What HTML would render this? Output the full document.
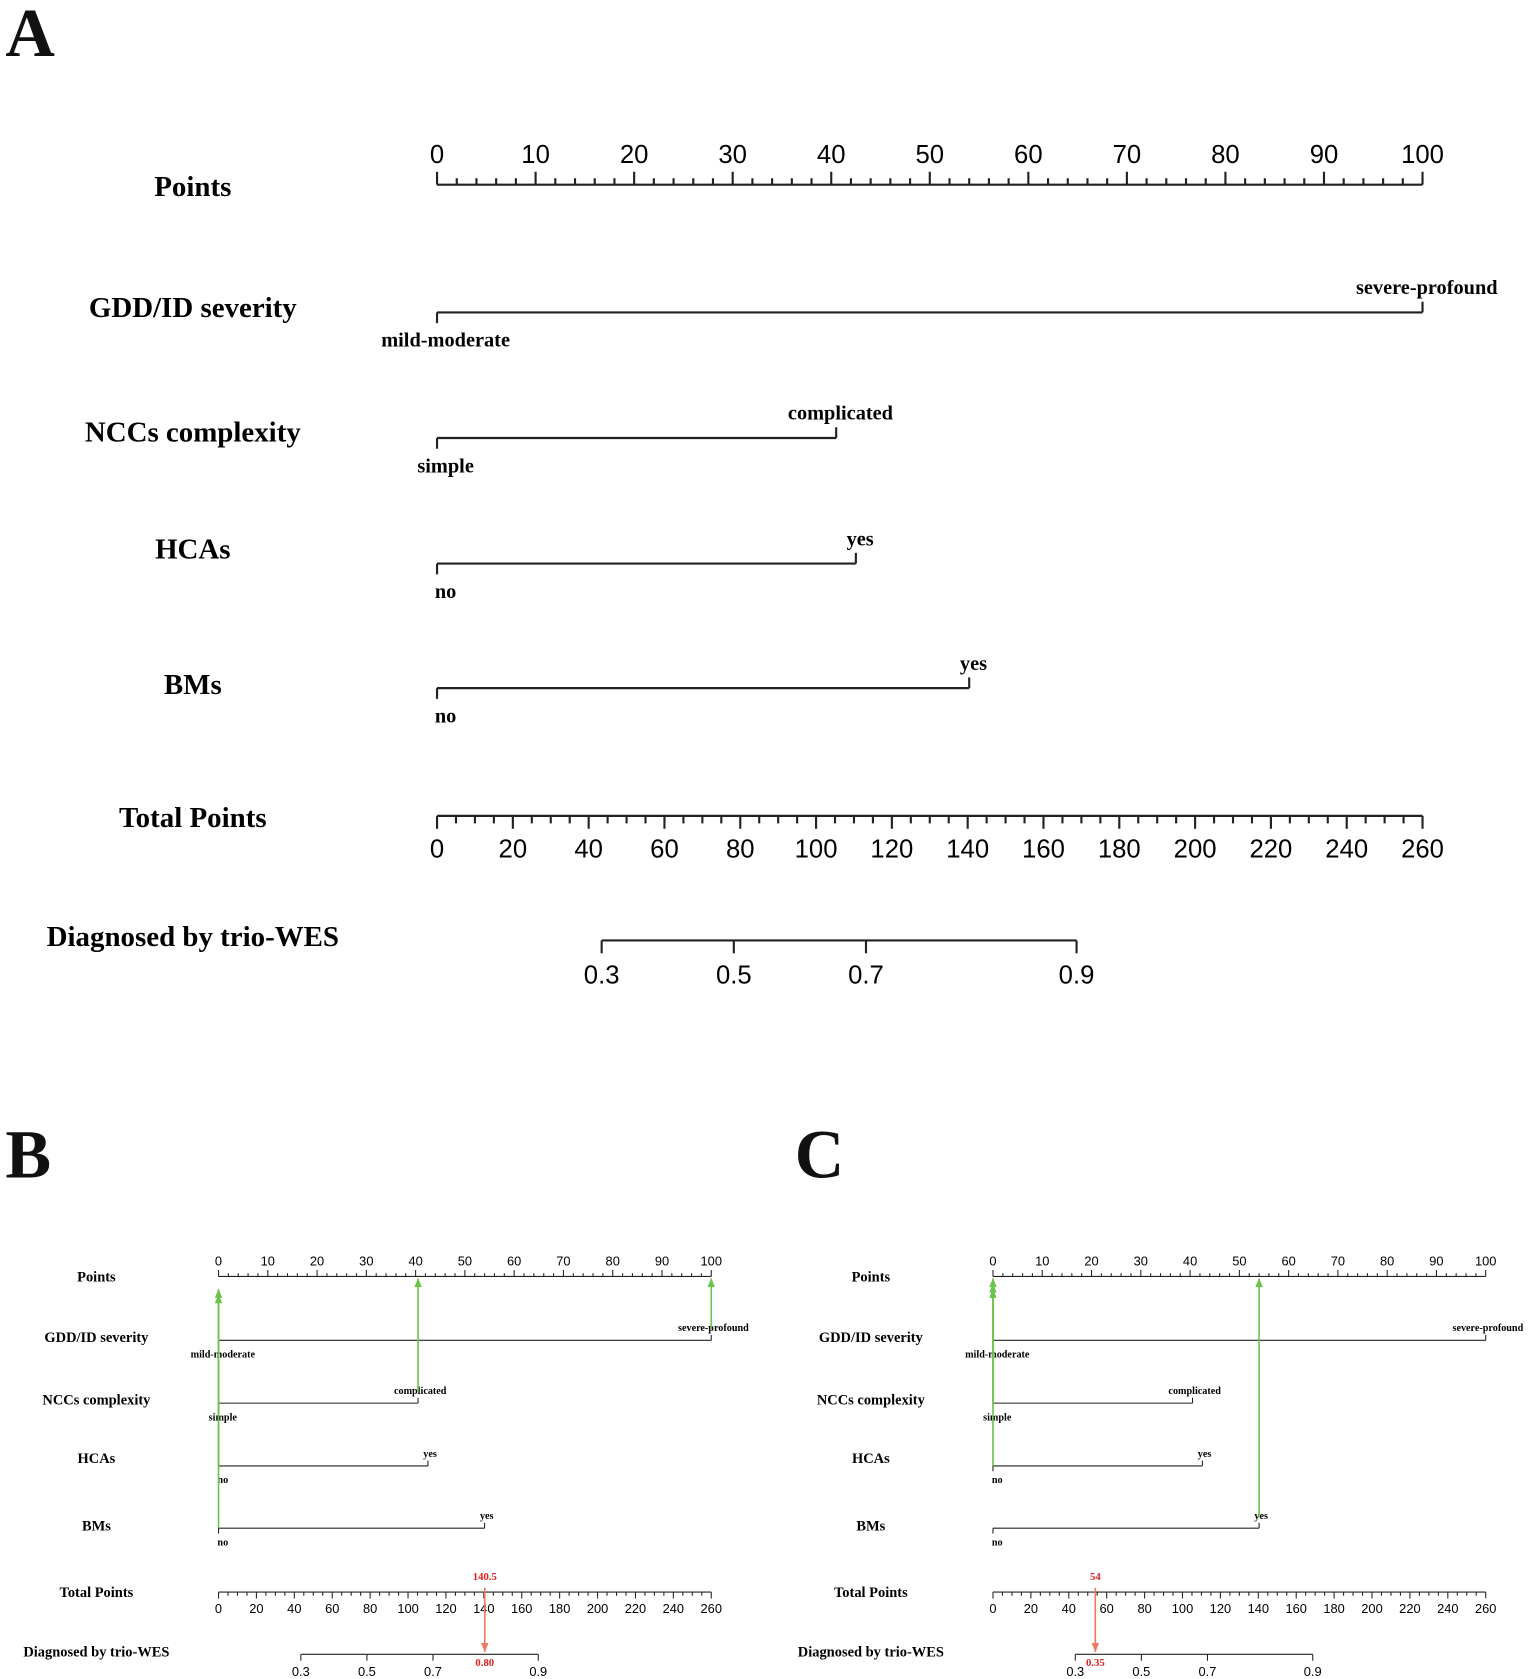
<!DOCTYPE html>
<html><head><meta charset="utf-8"><style>
html,body{margin:0;padding:0;background:#fff}
svg{display:block}
.lab{font-family:"Liberation Serif",serif;font-weight:bold}
.tick{font-family:"Liberation Sans",sans-serif}
</style></head><body>
<svg id="chart" width="1535" height="1679" viewBox="0 0 1433 1564" preserveAspectRatio="none" xmlns="http://www.w3.org/2000/svg">
<defs>
<marker id="ag" markerWidth="14" markerHeight="18" refX="7" refY="1" orient="0" markerUnits="userSpaceOnUse"><path d="M0,17 L7,0 L14,17 z" fill="#6cc24a"/></marker>
<marker id="ar" markerWidth="14" markerHeight="18" refX="7" refY="17" orient="0" markerUnits="userSpaceOnUse"><path d="M0,0 L7,17 L14,0 z" fill="#ee7a62"/></marker>
</defs>
</svg>
<script>
// ---- data ----
const varNames = ["GDD/ID severity","NCCs complexity","HCAs","BMs"];
const lowLevels = ["mild-moderate","simple","no","no"];
const highLevels = ["severe-profound","complicated","yes","yes"];
const highPoints = [100, 40.5, 42.5, 54];
const pointTicks = [0,10,20,30,40,50,60,70,80,90,100];
const totalTicks = [0,20,40,60,80,100,120,140,160,180,200,220,240,260];
const probTicks = [0.3,0.5,0.7,0.9];
const probTickLabels = ["0.3","0.5","0.7","0.9"];
const exampleB = [1,1,0,0]; // selected level index per variable
const exampleC = [0,0,0,1];
const exampleBTotal = 140.5, exampleBProb = "0.80";
const exampleCTotal = 54, exampleCProb = "0.35";

const NS = "http://www.w3.org/2000/svg";
const svg = document.getElementById('chart');
const X0 = 408, X1 = 1328, LABX = 180;
const rowY = [291, 408, 525, 641];
const rowLabY = [287, 403, 512, 638];
const PY = 172, TY = 760, DY = 876;
const xP = p => X0 + (X1 - X0) * p / 100;
const xT = t => X0 + (X1 - X0) * t / 260;
const logit = p => Math.log(p / (1 - p));
const xProb = p => xT(78.3 + logit(p) / 0.0243);

function el(parent, tag, attrs, text) {
  const e = document.createElementNS(NS, tag);
  for (const k in attrs) e.setAttribute(k, attrs[k]);
  if (text !== undefined) e.textContent = text;
  parent.appendChild(e);
  return e;
}
function line(g, x1, y1, x2, y2, col, w) {
  return el(g, 'line', {x1, y1, x2, y2, stroke: col || '#222', 'stroke-width': w || 2});
}

function panel(tx, ty, sc, name, sel, tot, prob) {
  const g = el(svg, 'g', {transform: `translate(${tx},${ty}) scale(${sc})`});
  
  
  let t = el(g, 'text', {x: LABX, y: PY + 2, class: 'lab', 'font-size': 27, 'text-anchor': 'middle', 'dominant-baseline': 'central'}, 'Points');
  
  
  const pa = el(g, 'g', {});
  
  
  line(pa, xP(0), PY, xP(100), PY);
  for (let v = 0; v <= 100; v += 2) line(pa, xP(v), PY, xP(v), PY - (v % 10 === 0 ? 12 : 6));
  pointTicks.forEach(v => {
    const tt = el(pa, 'text', {x: xP(v), y: PY - 20, class: 'tick', 'font-size': 24, 'text-anchor': 'middle'}, String(v));
    
    
  });
  varNames.forEach((nm, i) => {
    const rg = el(g, 'g', {});
    
    
    const y = rowY[i];
    const lt = el(rg, 'text', {x: LABX, y: rowLabY[i], class: 'lab', 'font-size': 27, 'text-anchor': 'middle', 'dominant-baseline': 'central'}, nm);
    
    
    line(rg, xP(0), y, xP(highPoints[i]), y);
    line(rg, xP(0), y, xP(0), y + 10);
    line(rg, xP(highPoints[i]), y, xP(highPoints[i]), y - 10);
    const l1 = el(rg, 'text', {x: xP(0) + 8, y: y + 32, class: 'lab', 'font-size': 19, 'text-anchor': 'middle'}, lowLevels[i]);
    
    
    const l2 = el(rg, 'text', {x: xP(highPoints[i]) + 4, y: y - 17, class: 'lab', 'font-size': 19, 'text-anchor': 'middle'}, highLevels[i]);
    
    
  });
  t = el(g, 'text', {x: LABX, y: TY + 2, class: 'lab', 'font-size': 27, 'text-anchor': 'middle', 'dominant-baseline': 'central'}, 'Total Points');
  
  
  const ta = el(g, 'g', {});
  
  
  line(ta, xT(0), TY, xT(260), TY);
  for (let v = 0; v <= 260; v += 5) line(ta, xT(v), TY, xT(v), TY + (v % 20 === 0 ? 12 : 7));
  totalTicks.forEach(v => {
    const tt = el(ta, 'text', {x: xT(v), y: TY + 39, class: 'tick', 'font-size': 24, 'text-anchor': 'middle'}, String(v));
    
    
  });
  t = el(g, 'text', {x: LABX, y: DY - 3, class: 'lab', 'font-size': 27, 'text-anchor': 'middle', 'dominant-baseline': 'central'}, 'Diagnosed by trio-WES');
  
  
  const da = el(g, 'g', {});
  
  
  line(da, xProb(probTicks[0]), DY, xProb(probTicks[probTicks.length - 1]), DY);
  probTicks.forEach((p, k) => {
    line(da, xProb(p), DY, xProb(p), DY + 12);
    const tt = el(da, 'text', {x: xProb(p), y: DY + 40, class: 'tick', 'font-size': 24, 'text-anchor': 'middle'}, probTickLabels[k]);
    
    
  });
  if (sel) {
    sel.forEach((s, i) => {
      const px = xP(s ? highPoints[i] : 0);
      const y0 = s ? rowY[i] - 20 : rowY[i];
      const a = el(g, 'line', {x1: px, y1: y0, x2: px, y2: PY + 4 + (s ? 0 : i * 10), stroke: '#6cc24a', 'stroke-width': 3, 'marker-end': 'url(#ag)'});
      
      
    });
    const rx = xT(tot);
    const r = el(g, 'line', {x1: rx, y1: TY - 8, x2: rx, y2: DY - 4, stroke: '#ee7a62', 'stroke-width': 3, 'marker-end': 'url(#ar)'});
    
    
    const a1 = el(g, 'text', {x: rx, y: TY - 22, class: 'lab', 'font-size': 20, fill: '#e02020', 'text-anchor': 'middle'}, String(tot));
    
    
    const a2 = el(g, 'text', {x: rx, y: DY + 22, class: 'lab', 'font-size': 20, fill: '#e02020', 'text-anchor': 'middle'}, prob);
    
    
  }
}

panel(0, 0, 1, 'panel-a', null);
panel(0, 1103, 0.5, 'panel-b', exampleB, exampleBTotal, exampleBProb);
panel(723, 1103, 0.5, 'panel-c', exampleC, exampleCTotal, exampleCProb);

[['A', 5, 52], ['B', 5, 1097], ['C', 742, 1097]].forEach(([s, x, y]) => {
  const t = el(svg, 'text', {x, y, 'font-family': '"Liberation Serif",serif', 'font-weight': 'bold', 'font-size': 64, fill: '#111'}, s);
  
  
});
</script>
</body></html>
